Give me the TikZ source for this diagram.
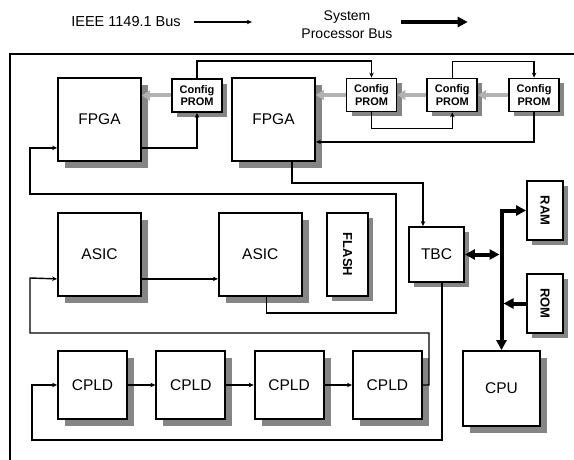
\documentclass[tikz,border=0pt]{standalone}
\usepackage{fontspec}
\setmainfont{Liberation Sans}
\usepackage{tikz}
\usetikzlibrary{arrows.meta, positioning, shadows}

\begin{document}
\begin{tikzpicture}[x=1pt, y=-1pt,
  chip/.style={rectangle, draw, line width=1.8pt, fill=white, inner sep=0pt, align=center, font=\fontsize{15.5}{18}\selectfont},
  bigshadow/.style={drop shadow={shadow xshift=7pt, shadow yshift=-7pt, fill=black!48, opacity=1}},
  smallshadow/.style={drop shadow={shadow xshift=5pt, shadow yshift=-5pt, fill=black!48, opacity=1}},
  bigchip/.style={chip, bigshadow, minimum width=83pt, minimum height=83pt},
  cpld/.style={chip, bigshadow, minimum width=69pt, minimum height=68pt},
  prom/.style={chip, smallshadow, minimum width=50pt, minimum height=33pt, font=\bfseries\fontsize{11}{12.5}\selectfont},
  mem/.style={chip, smallshadow, minimum width=36pt, minimum height=59pt, font=\bfseries\fontsize{13}{15}\selectfont},
  jtag/.style={line width=1.4pt, >={Stealth[length=5pt, width=4.5pt]}, ->},
  cfgflow/.style={draw=black!30, line width=4pt, -{Triangle[length=8pt, width=10pt]}},
  bus/.style={line width=4pt, >={Triangle[length=10pt, width=10pt]}},
  legend/.style={inner sep=0pt, align=center, font=\fontsize{14.5}{18}\selectfont},
]
\useasboundingbox (0,0) rectangle (574,460);

\node[legend] (lgJtag) at (126,22) {IEEE 1149.1 Bus};
\node[legend, font=\fontsize{14}{18}\selectfont] (lgBus) at (347,25) {System\\Processor Bus};
\draw[jtag] ([xshift=13pt]lgJtag.east) -- ++(58,0);
\draw[bus, ->] ([xshift=8pt, yshift=3pt]lgBus.east) -- ++(67,0);

\draw[line width=2pt] (10,470) |- (590,54);

\node[bigchip] (fpgaA) at (99.5,119.5) {FPGA};
\node[bigchip] (fpgaB) at (273.5,119.5) {FPGA};
\node[prom] (promA) at (197,95.5) {Config\\PROM};
\node[prom] (promB) at (371.5,95) {Config\\PROM};
\node[prom, right=29pt of promB] (promC) {Config\\PROM};
\node[prom, right=30pt of promC] (promD) {Config\\PROM};

\node[bigchip] (asicA) at (99.5,254.5) {ASIC};
\node[bigchip, right=76pt of asicA] (asicB) {ASIC};
\node[chip, smallshadow, minimum width=41pt, minimum height=83pt, font=\bfseries\fontsize{13}{15}\selectfont] (flash) at (347.5,254.5) {\rotatebox{-90}{FLASH}};
\node[chip, smallshadow, minimum width=55pt, minimum height=55pt] (tbc) at (436.5,254.5) {TBC};
\node[mem] (ram) at (545,210.5) {\rotatebox{-90}{RAM}};
\node[mem] (rom) at (545,303.5) {\rotatebox{-90}{ROM}};
\node[chip, bigshadow, minimum width=77pt, minimum height=75pt] (cpu) at (501.5,388.5) {CPU};

\node[cpld] (cpldA) at (92.5,385) {CPLD};
\node[cpld, right=27.5pt of cpldA] (cpldB) {CPLD};
\node[cpld, right=27.5pt of cpldB] (cpldC) {CPLD};
\node[cpld, right=27.5pt of cpldC] (cpldD) {CPLD};

\draw[cfgflow] (promA.west) -- (promA.west -| fpgaA.east);
\draw[cfgflow] (promB.west) -- (promB.west -| fpgaB.east);
\draw[cfgflow] (promC.west) -- (promB.east);
\draw[cfgflow] (promD.west) -- (promC.east);

\draw[jtag] ([xshift=5.5pt]tbc.south) |- (32,440) |- (cpldA.west);
\draw[jtag] (cpldA) -- (cpldB);
\draw[jtag] (cpldB) -- (cpldC);
\draw[jtag] (cpldC) -- (cpldD);
\draw[jtag] (cpldD.east) -| (429,333) -| (30,278) -- ([yshift=18pt]asicA.south west);
\draw[jtag] ([yshift=18pt]asicA.south east) -- ([yshift=18pt]asicB.south west);
\draw[jtag] ([xshift=6pt]asicB.south) |- (396,313) |- (30,194) |- ([yshift=14pt]fpgaA.south west);
\draw[jtag] ([yshift=14pt]fpgaA.south east) -| (promA.south);
\draw[jtag] (promA.north) -- ++(0,-17) -| (promB.north);
\draw[jtag] (promB.south) -- ++(0,16) -| (promC.south);
\draw[jtag] (promC.north) -- ++(0,-16) -| (promD.north);
\draw[jtag] (promD.south) |- ([yshift=20pt]fpgaB.south east);
\draw[jtag] ([xshift=18.5pt]fpgaB.south) -- ++(0,21) -| ([xshift=-13.5pt]tbc.north);

\draw[bus, <->] (ram.west) -| (cpu.north);
\draw[bus, <->, shorten >=2pt] (tbc.east) -- (tbc.east -| cpu.north);
\draw[bus, ->, shorten >=2pt] (rom.west) -- (rom.west -| cpu.north);
\end{tikzpicture}
\end{document}
